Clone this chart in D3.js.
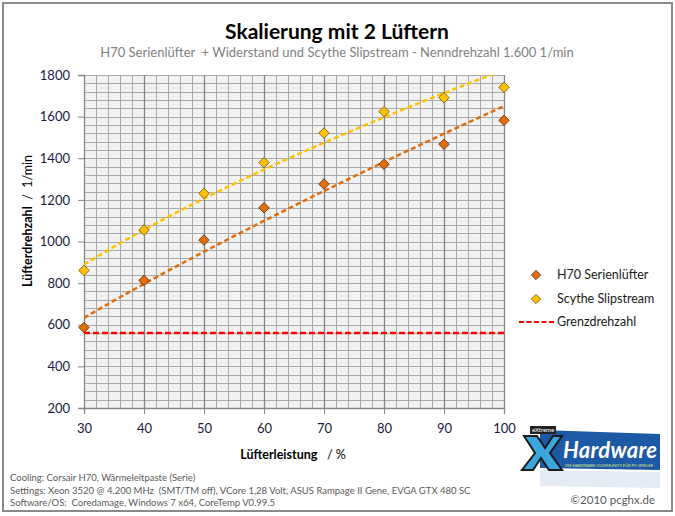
<!DOCTYPE html>
<html>
<head>
<meta charset="utf-8">
<script src="https://cdn.jsdelivr.net/npm/d3@7"></script>
<style>
  body { margin: 0; background: #fff; }
  text { font-family: Lato, "Open Sans", sans-serif; }
</style>
</head>
<body>
<div id="chart"></div>
<script>
// Data
const leistung = [30, 40, 50, 60, 70, 80, 90, 100];
const h70Values = [587, 813, 1007, 1162, 1276, 1371, 1467, 1582];
const scytheValues = [861, 1055, 1231, 1379, 1521, 1624, 1691, 1741];
const grenzdrehzahl = 560;
const xTicks = [30, 40, 50, 60, 70, 80, 90, 100];
const yTicks = [200, 400, 600, 800, 1000, 1200, 1400, 1600, 1800];
const footerLines = [
    'Cooling: Corsair H70, Wärmeleitpaste (Serie)',
    'Settings: Xeon 3520 @ 4.200 MHz  (SMT/TM off), VCore 1,28 Volt, ASUS Rampage II Gene, EVGA GTX 480 SC',
    'Software/OS:  Coredamage, Windows 7 x64, CoreTemp V0.99.5'
];

const width = 675, height = 516;
const svg = d3.select('#chart').append('svg')
    .attr('width', width)
    .attr('height', height);

// outer frame
svg.append('rect')
    .attr('x', 3).attr('y', 3)
    .attr('width', 669).attr('height', 508)
    .attr('fill', '#fff')
    .attr('stroke', '#8a8a8a')
    .attr('stroke-width', 2);

const x = d3.scaleLinear().domain([30, 100]).range([84, 504]);
const y = d3.scaleLinear().domain([200, 1800]).range([408, 75]);

// plot background
svg.append('rect')
    .attr('x', x(30)).attr('y', y(1800))
    .attr('width', x(100) - x(30)).attr('height', y(200) - y(1800))
    .attr('fill', '#f2f2f2');

// minor grid
const grid = svg.append('g');
grid.selectAll('.hminor')
    .data(d3.range(240, 1800 + 1, 40))
    .join('line')
    .attr('x1', x(30)).attr('x2', x(100))
    .attr('y1', d => Math.round(y(d)) + 0.5).attr('y2', d => Math.round(y(d)) + 0.5)
    .attr('stroke', '#a9a9a9').attr('stroke-width', 1);
grid.selectAll('.vminor')
    .data(d3.range(32, 100 + 1, 2))
    .join('line')
    .attr('y1', y(200)).attr('y2', y(1800))
    .attr('x1', d => Math.round(x(d)) + 0.5).attr('x2', d => Math.round(x(d)) + 0.5)
    .attr('stroke', d => d % 10 === 0 ? '#868686' : '#a9a9a9')
    .attr('stroke-width', d => d % 10 === 0 ? 1.3 : 1);

// axes
const yAxis = svg.append('g')
    .attr('transform', `translate(${x(30)},0)`)
    .call(d3.axisLeft(y).tickValues(yTicks).tickFormat(d3.format('d')).tickSize(6).tickPadding(8));
const xAxis = svg.append('g')
    .attr('transform', `translate(0,${y(200)})`)
    .call(d3.axisBottom(x).tickValues(xTicks).tickFormat(d3.format('d')).tickSize(6).tickPadding(10));
[yAxis, xAxis].forEach(a => {
    a.select('.domain').attr('stroke', '#868686').attr('stroke-width', 1.3);
    a.selectAll('.tick line').attr('stroke', '#868686');
    a.selectAll('.tick text')
        .attr('fill', '#1a1a40')
        .style('font-size', '13px')
        .style('font-family', 'Lato, sans-serif');
});

// power trendline (least squares on logs, like Excel)
function powerFit(xs, ys) {
    const lx = xs.map(Math.log), ly = ys.map(Math.log);
    const mx = d3.mean(lx), my = d3.mean(ly);
    const b = d3.sum(lx, (v, i) => (v - mx) * (ly[i] - my)) / d3.sum(lx, v => (v - mx) ** 2);
    const a = Math.exp(my - b * mx);
    return t => a * Math.pow(t, b);
}

svg.append('clipPath').attr('id', 'plotclip')
    .append('rect')
    .attr('x', x(30)).attr('y', y(1800))
    .attr('width', x(100) - x(30)).attr('height', y(200) - y(1800));

const series = [
    { name: 'H70 Serienlüfter', values: h70Values, fill: '#e36c0a', line: '#e36c0a', stroke: '#5a2a05' },
    { name: 'Scythe Slipstream', values: scytheValues, fill: '#ffc000', line: '#ffc000', stroke: '#6b5210' }
];

const plot = svg.append('g').attr('clip-path', 'url(#plotclip)');

// Grenzdrehzahl
plot.append('line')
    .attr('x1', x(30)).attr('x2', x(100))
    .attr('y1', y(grenzdrehzahl)).attr('y2', y(grenzdrehzahl))
    .attr('stroke', '#ff0000')
    .attr('stroke-width', 2.5)
    .attr('stroke-dasharray', '6,3');

series.forEach(s => {
    const f = powerFit(leistung, s.values);
    const pts = d3.range(30, 100.01, 1).map(t => [t, f(t)]);
    plot.append('path')
        .datum(pts)
        .attr('fill', 'none')
        .attr('stroke', s.line)
        .attr('stroke-width', 2.5)
        .attr('stroke-dasharray', '5,3')
        .attr('d', d3.line().x(d => x(d[0])).y(d => y(d[1])));
});

const diamond = d3.symbol().type(d3.symbolDiamond2).size(70);
series.forEach(s => {
    svg.append('g').selectAll('path')
        .data(leistung.map((t, i) => [t, s.values[i]]))
        .join('path')
        .attr('d', diamond)
        .attr('transform', d => `translate(${x(d[0])},${y(d[1])})`)
        .attr('fill', s.fill)
        .attr('stroke', s.stroke)
        .attr('stroke-width', 0.8);
});

// legend
const legend = svg.append('g');
series.forEach((s, i) => {
    const ly = 275 + i * 24;
    legend.append('path')
        .attr('d', d3.symbol().type(d3.symbolDiamond2).size(55))
        .attr('transform', `translate(536,${ly})`)
        .attr('fill', s.fill)
        .attr('stroke', s.stroke)
        .attr('stroke-width', 0.8);
    legend.append('text')
        .attr('x', 557).attr('y', ly)
        .attr('dy', '0.35em')
        .style('font-size', '12.5px')
        .attr('fill', '#1a1a1a')
        .text(s.name);
});
legend.append('line')
    .attr('x1', 519).attr('x2', 554)
    .attr('y1', 322).attr('y2', 322)
    .attr('stroke', '#ff0000').attr('stroke-width', 2)
    .attr('stroke-dasharray', '5,2.5');
legend.append('text')
    .attr('x', 557).attr('y', 322).attr('dy', '0.35em')
    .style('font-size', '12.5px')
    .attr('fill', '#1a1a1a')
    .text('Grenzdrehzahl');

// titles
svg.append('text')
    .attr('x', 337).attr('y', 39)
    .attr('text-anchor', 'middle')
    .style('font-size', '21px').style('font-weight', 'bold')
    .attr('fill', '#000')
    .text('Skalierung mit 2 Lüftern');
svg.append('text')
    .attr('x', 337).attr('y', 57)
    .attr('text-anchor', 'middle')
    .attr('xml:space', 'preserve')
    .style('white-space', 'pre')
    .style('font-size', '13px')
    .attr('fill', '#7f7f7f')
    .text('H70 Serienlüfter  + Widerstand und Scythe Slipstream - Nenndrehzahl 1.600 1/min');

const yTitle = svg.append('text')
    .attr('transform', 'translate(32,221) rotate(-90)')
    .attr('text-anchor', 'middle')
    .style('white-space', 'pre')
    .style('font-size', '12.5px')
    .attr('fill', '#000');
yTitle.append('tspan').style('font-weight', 'bold').text('Lüfterdrehzahl');
yTitle.append('tspan').text('  /  1/min');

const xTitle = svg.append('text')
    .attr('x', 293).attr('y', 459)
    .attr('text-anchor', 'middle')
    .style('white-space', 'pre')
    .style('font-size', '12.5px')
    .attr('fill', '#000');
xTitle.append('tspan').style('font-weight', 'bold').text('Lüfterleistung');
xTitle.append('tspan').text('   / %');

// footer
svg.append('g').selectAll('text')
    .data(footerLines)
    .join('text')
    .attr('x', 10)
    .attr('y', (d, i) => 481 + i * 12.5)
    .style('white-space', 'pre')
    .style('font-size', '9.5px')
    .attr('fill', '#595959')
    .text(d => d);

// logo (simplified)
const logo = svg.append('g');
logo.append('path')
    .attr('d', 'M540,430 L660,434 L660,470 L540,468 Z')
    .attr('fill', '#1d5aa6');
// reflection
logo.append('path')
    .attr('d', 'M540,470 L660,472 L660,488 L540,486 Z')
    .attr('fill', '#1d5aa6').attr('opacity', 0.12);
// big X shape
logo.append('path')
    .attr('d', 'M524,436 L537,436 L545,448 L553,436 L562,436 L550,453 L562,470 L549,470 L541,458 L533,470 L522,470 L535,453 Z')
    .attr('fill', '#3aa6dc')
    .attr('stroke', '#1a1a1a')
    .attr('stroke-width', 2);
logo.append('rect')
    .attr('x', 530).attr('y', 426).attr('width', 26).attr('height', 8)
    .attr('fill', '#222');
logo.append('text')
    .attr('x', 532).attr('y', 432)
    .style('font-size', '6px')
    .attr('fill', '#fff')
    .text('eXtreme');
logo.append('text')
    .attr('x', 563).attr('y', 458)
    .style('font-size', '22px').style('font-weight', 'bold').style('font-style', 'italic')
    .attr('fill', '#fff')
    .attr('textLength', 94)
    .text('Hardware');
logo.append('text')
    .attr('x', 565).attr('y', 467)
    .style('font-size', '4px')
    .attr('fill', '#dfe87a')
    .text('DIE HARDWARE-COMMUNITY FÜR PC-SPIELER');

svg.append('text')
    .attr('x', 655).attr('y', 504)
    .attr('text-anchor', 'end')
    .style('font-size', '11.5px')
    .attr('fill', '#595959')
    .text('©2010 pcghx.de');
</script>
</body>
</html>
